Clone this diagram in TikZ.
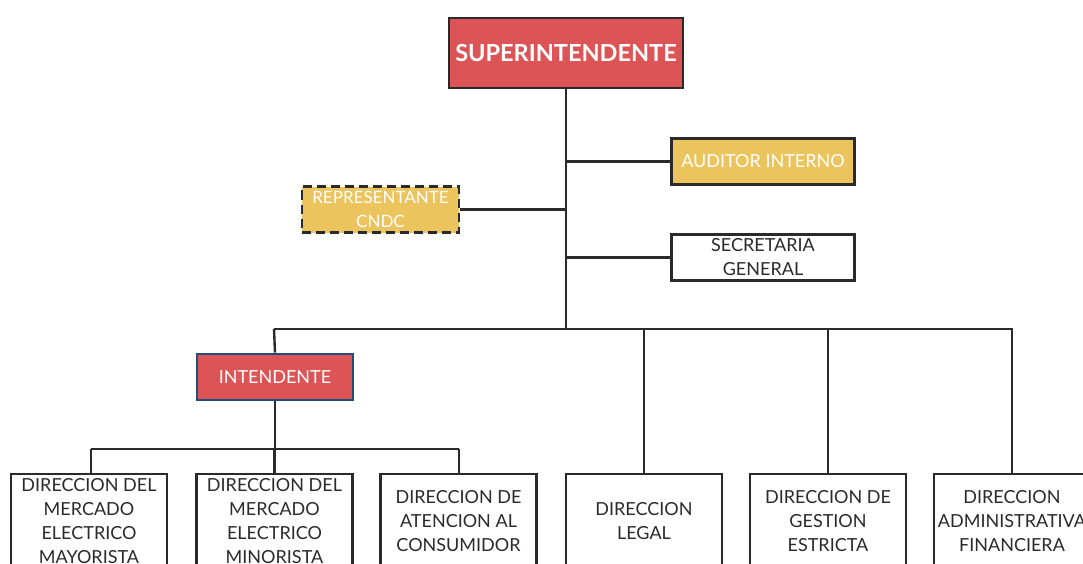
\documentclass[tikz,border=0pt]{standalone}
\usepackage{fontspec}
\setmainfont{Lato}
\usetikzlibrary{positioning}

\definecolor{rojo}{HTML}{DC5455}
\definecolor{oro}{HTML}{ECC45E}
\definecolor{linea}{HTML}{2A2A2A}
\definecolor{azul}{HTML}{1F4E7A}

\begin{document}
\begin{tikzpicture}[x=1pt,y=-1pt,line width=2.4pt,draw=linea,
                    main node/.style={rectangle,draw=linea,line width=2.6pt,inner sep=0pt,align=center,
                      minimum width=156pt,minimum height=94pt,font=\fontsize{18}{24}\selectfont,text=linea},
                    top node/.style={main node,minimum height=46pt,minimum width=183pt}]
  \useasboundingbox (0,0) rectangle (1083,564);

  \node[main node,fill=rojo,minimum width=234pt,minimum height=70pt,text=white,
        font=\fontsize{23.5}{24}\selectfont\bfseries] (super) at (566,53) {SUPERINTENDENTE};
  \node[top node,fill=oro,text=white] (auditor) at (763,161.5) {AUDITOR INTERNO};
  \node[top node,fill=oro,text=white,dashed,dash pattern=on 9pt off 5pt,minimum width=157pt,
        font=\fontsize{17}{24}\selectfont] (cndc) at (380.5,209.5) {REPRESENTANTE\\CNDC};
  \node[top node,fill=white] (secre) at (763,257.5) {SECRETARIA\\GENERAL};
  \node[main node,fill=rojo,draw=azul,text=white,minimum height=46pt] (intend) at (275,377) {INTENDENTE};

  \node[main node] (mayor) at (89,521) {DIRECCION DEL\\MERCADO\\ELECTRICO\\MAYORISTA};
  \node[main node] (minor) at (274.5,521) {DIRECCION DEL\\MERCADO\\ELECTRICO\\MINORISTA};
  \node[main node] (consu) at (458.5,521) {DIRECCION DE\\ATENCION AL\\CONSUMIDOR};
  \node[main node] (legal) at (644,521) {DIRECCION\\LEGAL};
  \node[main node] (gestion) at (828,521) {DIRECCION DE\\GESTION\\ESTRICTA};
  \node[main node] (admin) at (1012,521) {DIRECCION\\ADMINISTRATIVA\\FINANCIERA};

  \coordinate (busL) at (274,329);
  \coordinate (busR) at (1013,329);
  \coordinate (subL) at (91,449);
  \coordinate (subR) at (459,449);

  % tronco principal
  \draw (super.south) -- (super |- busL);
  \draw (auditor.west) -- (auditor.west -| super);
  \draw (cndc.east) -- (cndc.east -| super);
  \draw (secre.west) -- (secre.west -| super);
  \draw (busL) -- (busR);
  \draw (busL) -- (intend.north);
  \draw (legal.north) -- (legal.north |- busL);
  \draw (gestion.north) -- (gestion.north |- busL);
  \draw (admin.north) -- (admin.north |- busL);

  % bajo el intendente
  \draw (intend.south) -- (intend.south |- subL);
  \draw (subL) -- (subR);
  \draw (mayor.north -| subL) -- (subL);
  \draw (minor.north) -- (minor.north |- subL);
  \draw (consu.north -| subR) -- (subR);
\end{tikzpicture}
\end{document}
